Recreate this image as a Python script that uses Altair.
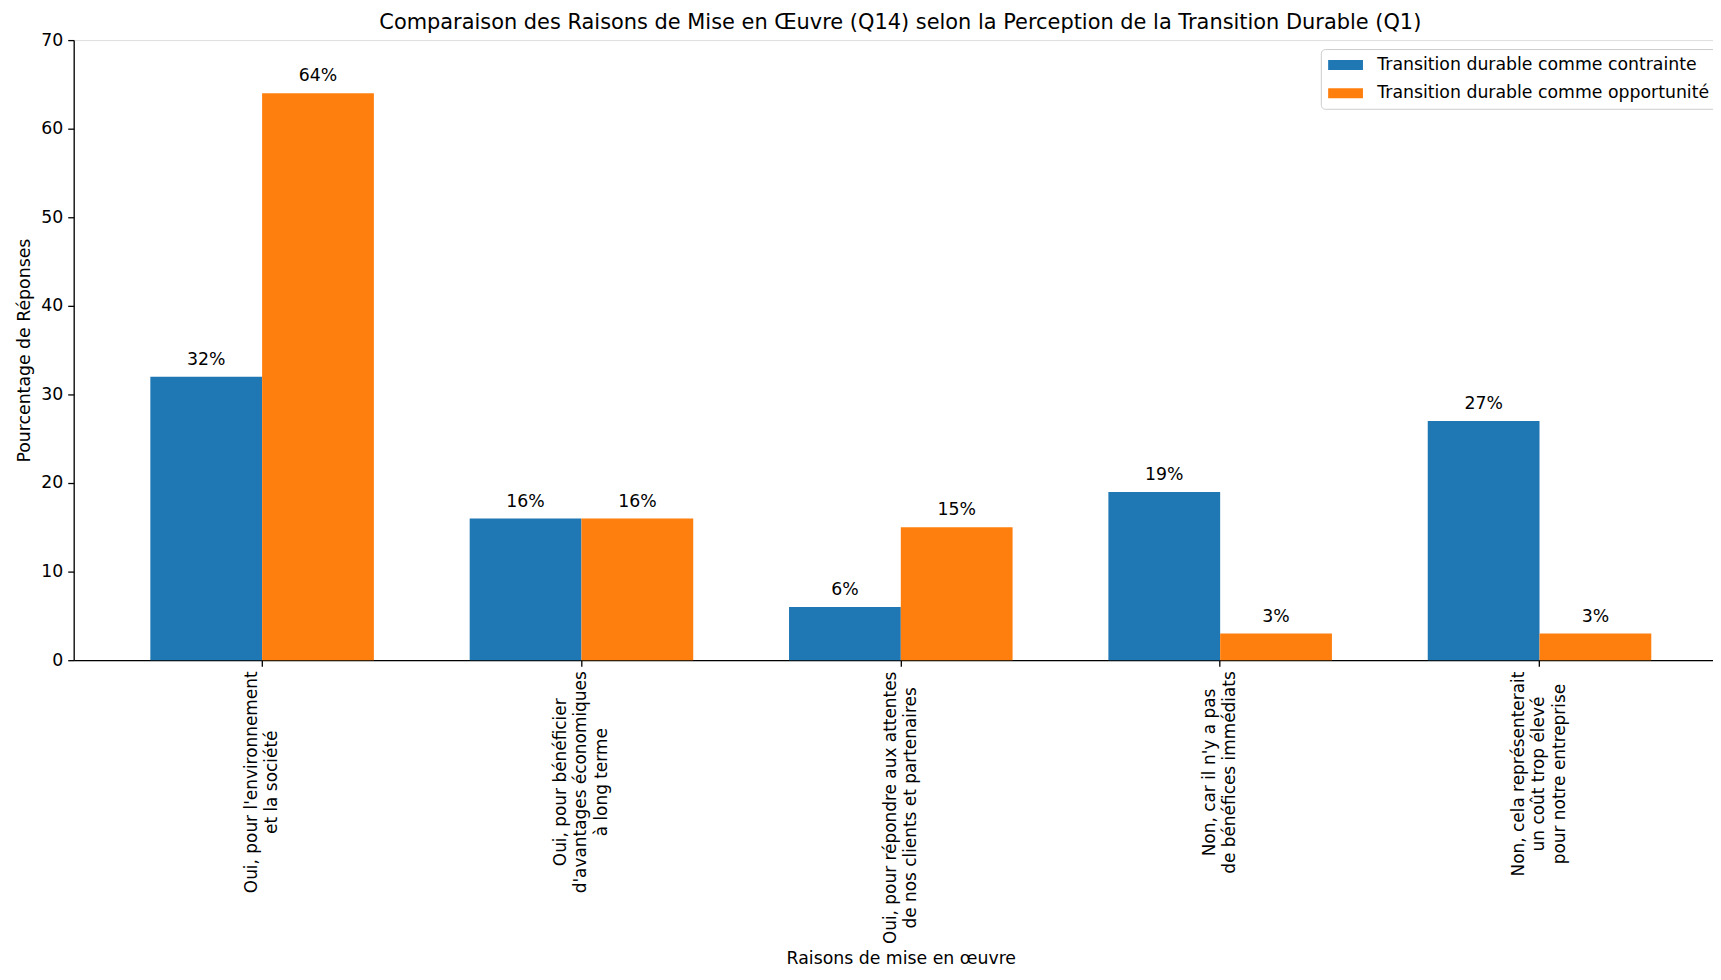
import altair as alt
import pandas as pd

categories = [
    "Oui, pour l'environnement\net la société",
    "Oui, pour bénéficier\nd'avantages économiques\nà long terme",
    "Oui, pour répondre aux attentes\nde nos clients et partenaires",
    "Non, car il n'y a pas\nde bénéfices immédiats",
    "Non, cela représenterait\nun coût trop élevé\npour notre entreprise",
]
series = ["Transition durable comme contrainte", "Transition durable comme opportunité"]
contrainte = [32, 16, 6, 19, 27]
opportunite = [64, 16, 15, 3, 3]
colors = ["#1f77b4", "#ff7f0e"]
y_ticks = [0, 10, 20, 30, 40, 50, 60, 70]

FONT = "DejaVu Sans"
FS = 17.4
FSX = 17.0
LH = 20.6
PLOT_H = 623
VIEW_W = 1647
RANGE_W = 1662

# approximate DejaVu Sans advance widths (em) for label layout
W = {' ': .318, ',': .318, "'": .275, 'O': .787, 'N': .748, 'a': .613, 'b': .635, 'c': .550,
     'd': .635, 'e': .615, 'f': .352, 'g': .635, 'h': .634, 'i': .278, 'l': .278, 'm': .974,
     'n': .634, 'o': .612, 'p': .635, 'q': .635, 'r': .411, 's': .521, 't': .392, 'u': .634,
     'v': .592, 'x': .592, 'y': .592, 'é': .615, 'à': .613, 'û': .634, 'ô': .612}


def text_w(s):
    return sum(W.get(c, 0.6) for c in s) * FSX


rows = []
for c, a, b in zip(categories, contrainte, opportunite):
    rows.append({"cat": c, "series": series[0], "value": a, "label": f"{a}%"})
    rows.append({"cat": c, "series": series[1], "value": b, "label": f"{b}%"})
df = pd.DataFrame(rows)

lab = pd.DataFrame({
    "cat": categories,
    "nlines": [len(c.split("\n")) for c in categories],
    "ypix": [PLOT_H + 11 + max(text_w(l) for l in c.split("\n")) / 2 for c in categories],
})

xscale = alt.Scale(paddingInner=0.3, paddingOuter=0.24, range=[0, RANGE_W])
xaxis = alt.Axis(labels=False, ticks=True, tickSize=6, tickColor="black", tickWidth=1.3,
                 domainColor="black", domainWidth=1.3, title="Raisons de mise en œuvre",
                 titleFont=FONT, titleFontSize=FS, titleFontWeight="normal", titleColor="black",
                 titleY=300, titleBaseline="middle")
yaxis = alt.Axis(values=y_ticks, grid=False, tickSize=6, tickColor="black", tickWidth=1.3,
                 domainColor="black", domainWidth=1.3, labelFont=FONT, labelFontSize=FS,
                 labelColor="black", labelPadding=5, title="Pourcentage de Réponses",
                 titleFont=FONT, titleFontSize=FS, titleFontWeight="normal", titleColor="black",
                 titlePadding=7)

base = alt.Chart(df)
bars = base.mark_bar().encode(
    x=alt.X("cat:N", sort=categories, scale=xscale, axis=xaxis),
    xOffset=alt.XOffset("series:N", sort=series, scale=alt.Scale(paddingInner=0, paddingOuter=0)),
    y=alt.Y("value:Q", scale=alt.Scale(domain=[0, 70], nice=False), axis=yaxis),
    color=alt.Color("series:N", sort=series,
                    scale=alt.Scale(domain=series, range=colors),
                    legend=alt.Legend(title=None, orient="none", legendX=1253, legendY=9,
                                      labelFont=FONT, labelFontSize=FS, labelColor="black",
                                      labelLimit=600, labelOffset=31.7,
                                      symbolType="M-1,-0.58L3.04,-0.58L3.04,0.58L-1,0.58Z",
                                      symbolSize=300, symbolStrokeWidth=0, symbolOpacity=1,
                                      strokeColor="#cccccc", fillColor="white",
                                      cornerRadius=4, padding=7, rowPadding=10.5)),
)
ann = base.mark_text(font=FONT, fontSize=FS, color="black", baseline="bottom", dy=-8).encode(
    x=alt.X("cat:N", sort=categories),
    xOffset=alt.XOffset("series:N", sort=series),
    y=alt.Y("value:Q"),
    text="label:N",
)


def xlab_layer(n):
    return alt.Chart(lab).transform_filter(alt.datum.nlines == n).mark_text(
        font=FONT, fontSize=FSX, color="black", angle=270, align="center",
        baseline="middle", lineBreak="\n", lineHeight=LH, dy=-(n - 1) * LH / 2,
    ).encode(
        x=alt.X("cat:N", sort=categories),
        y=alt.Y("ypix:Q", scale=None),
        text="cat:N",
    )


chart = alt.layer(bars, ann, xlab_layer(2), xlab_layer(3)).properties(
    width=VIEW_W, height=PLOT_H,
    autosize=alt.AutoSizeParams(type="none"),
    padding={"left": 66, "top": 30, "right": 0, "bottom": 306},
    title=alt.TitleParams(
        "Comparaison des Raisons de Mise en Œuvre (Q14) selon la Perception de la Transition Durable (Q1)",
        font=FONT, fontSize=21, fontWeight="normal", color="black", offset=-2, dx=7, frame="group"),
).configure_view(stroke="black", strokeWidth=1.3).configure(background="white")

chart.save("out.html", embed_options={"renderer": "svg", "actions": False})
